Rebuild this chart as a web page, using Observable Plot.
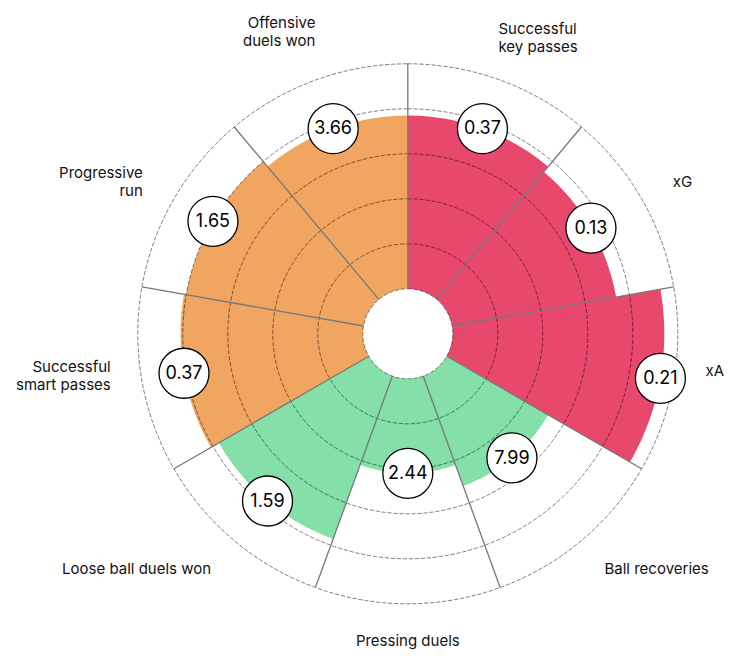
<!DOCTYPE html>
<html><head><meta charset="utf-8">
<script src="https://cdn.jsdelivr.net/npm/d3@7"></script>
<script src="https://cdn.jsdelivr.net/npm/@observablehq/plot@0.6"></script>
<style>body{margin:0;background:#fff;font-family:Inter,sans-serif}</style>
</head><body><div id="chart"></div>
<script>
// ---- data (clockwise from 12 o'clock) ----
const categories = ["Successful\nkey passes", "xG", "xA", "Ball recoveries", "Pressing duels", "Loose ball duels won", "Successful\nsmart passes", "Progressive\nrun", "Offensive\nduels won"];
const groups = ["Attacking", "Attacking", "Attacking", "Defending", "Defending", "Defending", "Possession", "Possession", "Possession"];
const percentiles = [77, 74, 94, 52, 42, 77, 81, 80, 77];
const valueLabels = ["0.37", "0.13", "0.21", "7.99", "2.44", "1.59", "0.37", "1.65", "3.66"];
const ringTicks = [0, 20, 40, 60, 80, 100];
const groupNames = ["Attacking", "Defending", "Possession"];
const groupColors = ["#e8486c", "#85dfa8", "#f0a660"];

// ---- layout ----
const W = 750, H = 665, CX = 407.3, CY = 333.3;
const n = categories.length, step = 360 / n;
const rad = Plot.scale({r: {type: "linear", domain: [0, 100], range: [45, 270]}});
const R = (v) => rad.apply(v);
const toRad = (deg) => deg * Math.PI / 180;
const px = (r, a) => r * Math.sin(toRad(a));
const py = (r, a) => r * Math.cos(toRad(a));
const LABEL_P = 116;
// small angular nudges (degrees) for labels close to the vertical/horizontal axes
const labelAngleNudge = {0: -3, 2: -3, 6: 2, 8: 3};
const labelRadiusNudge = {0: 4, 2: -6, 6: -6, 8: 10};

// sector polygons
const sectors = [];
categories.forEach((c, i) => {
  const a0 = i * step, a1 = (i + 1) * step, r0 = R(0), r1 = R(percentiles[i]);
  for (let a = a0; a <= a1 + 1e-9; a += 0.5) sectors.push({cat: c, group: groups[i], x: px(r0, a), y: py(r0, a)});
  for (let a = a1; a >= a0 - 1e-9; a -= 0.5) sectors.push({cat: c, group: groups[i], x: px(r1, a), y: py(r1, a)});
});

// rings
const rings = [];
ringTicks.forEach(t => {
  for (let a = 0; a < 360; a += 0.5) rings.push({t, x: px(R(t), a), y: py(R(t), a)});
});

// spokes
const spokes = categories.map((c, i) => ({a: i * step}));

// bubbles & labels
const items = categories.map((c, i) => {
  const mid = i * step + step / 2;
  const la = mid + (labelAngleNudge[i] || 0);
  const lr = R(LABEL_P) + (labelRadiusNudge[i] || 0);
  const s = Math.sin(toRad(mid));
  return {
    cat: c, value: valueLabels[i],
    bx: px(R(percentiles[i]), mid), by: py(R(percentiles[i]), mid),
    lx: px(lr, la), ly: py(lr, la),
    anchor: s > 0.1 ? "start" : s < -0.1 ? "end" : "middle"
  };
});

const labelOpts = (anchor) => ({
  filter: d => d.anchor === anchor, x: "lx", y: "ly", text: "cat",
  textAnchor: anchor, fontSize: 15, lineHeight: 1.2, fill: "#111"
});

const chart = Plot.plot({
  width: W, height: H, margin: 0,
  x: {domain: [-CX, W - CX], axis: null},
  y: {domain: [-(H - CY), CY], axis: null},
  color: {domain: groupNames, range: groupColors},
  style: {fontFamily: "Inter, sans-serif", background: "white"},
  marks: [
    Plot.line(sectors, {x: "x", y: "y", z: "cat", fill: "group", stroke: "none", curve: "linear-closed"}),
    Plot.line(rings, {x: "x", y: "y", z: "t", stroke: "#000", strokeOpacity: 0.5, strokeWidth: 1, strokeDasharray: "3.5,2.5", curve: "linear-closed"}),
    Plot.link(spokes, {x1: d => px(R(0), d.a), y1: d => py(R(0), d.a), x2: d => px(R(100), d.a), y2: d => py(R(100), d.a), stroke: "#777", strokeWidth: 1.3}),
    Plot.dot(items, {x: "bx", y: "by", r: 25, fill: "white", stroke: "#000", strokeWidth: 1.3}),
    Plot.text(items, {x: "bx", y: "by", text: "value", fontSize: 18, fill: "#000"}),
    Plot.text(items, labelOpts("start")),
    Plot.text(items, labelOpts("end")),
    Plot.text(items, labelOpts("middle"))
  ]
});
document.getElementById("chart").append(chart);
</script>
</body></html>
